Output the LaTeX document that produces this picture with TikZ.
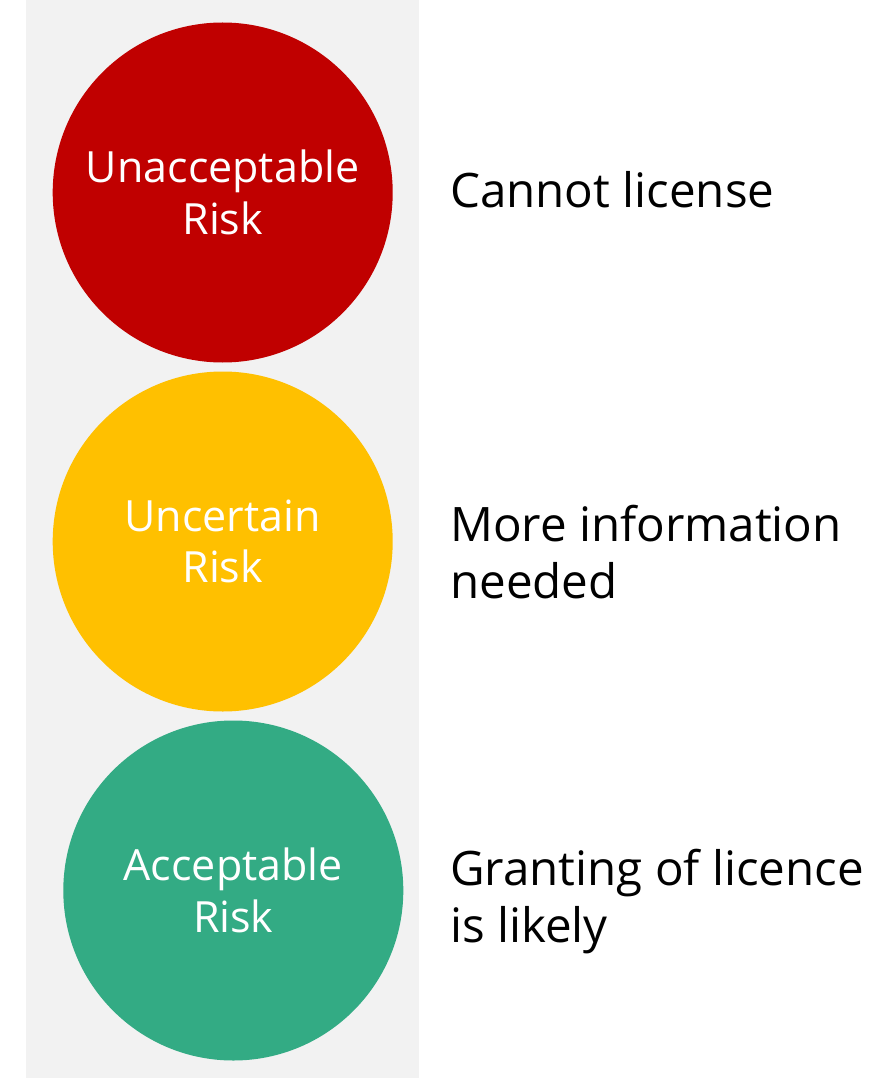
\documentclass[tikz,border=0pt]{standalone}
\usepackage{fontspec}
\setmainfont{Open Sans}
\usepackage{xcolor}
\usepackage{tikz}
\usetikzlibrary{positioning}

\definecolor{riskred}{HTML}{C00000}
\definecolor{riskyellow}{HTML}{FFC000}
\definecolor{riskgreen}{HTML}{33AB84}
\definecolor{panelgray}{HTML}{F2F2F2}

\tikzset{
  light/.style={circle, minimum size=340pt, inner sep=0pt, text=white, align=center,
    font=\fontsize{43}{51.5}\selectfont},
  outcome/.style={anchor=base west, inner sep=0pt, align=left, text=black,
    font=\fontsize{47.5}{57}\selectfont}
}

\begin{document}
\begin{tikzpicture}[x=1pt,y=-1pt]
\useasboundingbox (0,0) rectangle (890,1078);
\fill[panelgray] (26,0) rectangle (419,1078);
\node[light, fill=riskred] (unacceptable) at (222.7,192.5) {Unacceptable\\Risk};
\node[light, fill=riskyellow] (uncertain) at (222.7,541.5) {Uncertain\\Risk};
\node[light, fill=riskgreen] (acceptable) at (233.3,890.5) {Acceptable\\Risk};
% base of a two-line note is its last line
\node[outcome] (cannot) at (450,207.3) {Cannot license};
\node[outcome] (moreinfo) at (450,598.3) {More information\\needed};
\node[outcome] (granting) at (450,942) {Granting of licence\\is likely};
\end{tikzpicture}
\end{document}
